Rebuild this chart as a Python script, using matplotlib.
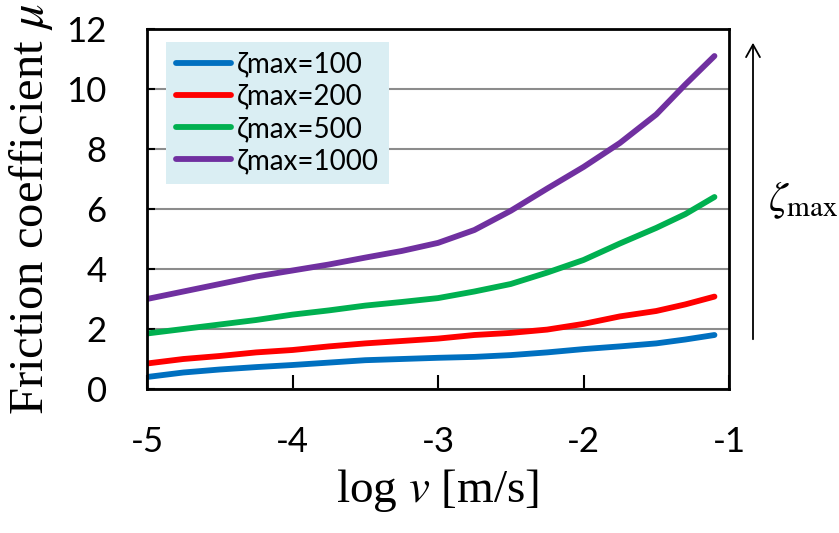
import numpy as np
import matplotlib.pyplot as plt
from matplotlib.patches import FancyArrowPatch

log_v = [-5.0, -4.75, -4.5, -4.25, -4.0, -3.75, -3.5, -3.25, -3.0,
         -2.75, -2.5, -2.25, -2.0, -1.75, -1.5, -1.3, -1.1]
mu_100 = [0.40, 0.55, 0.65, 0.73, 0.80, 0.88, 0.96, 1.00, 1.04,
          1.07, 1.13, 1.22, 1.33, 1.42, 1.52, 1.65, 1.80]
mu_200 = [0.85, 1.00, 1.10, 1.22, 1.30, 1.42, 1.52, 1.60, 1.68,
          1.80, 1.87, 1.98, 2.17, 2.42, 2.60, 2.82, 3.08]
mu_500 = [1.85, 2.00, 2.15, 2.30, 2.48, 2.62, 2.78, 2.90, 3.03,
          3.25, 3.50, 3.88, 4.30, 4.85, 5.37, 5.83, 6.40]
mu_1000 = [3.00, 3.25, 3.50, 3.75, 3.95, 4.15, 4.38, 4.60, 4.87,
           5.30, 5.94, 6.68, 7.40, 8.20, 9.15, 10.15, 11.10]

labels = ["ζmax=100", "ζmax=200", "ζmax=500", "ζmax=1000"]
colors = ["#0070C0", "#FF0000", "#00B050", "#7030A0"]
series = [mu_100, mu_200, mu_500, mu_1000]

xticks = [-5, -4, -3, -2, -1]
yticks = [0, 2, 4, 6, 8, 10, 12]

plt.rcParams["mathtext.fontset"] = "stix"

fig = plt.figure(figsize=(8.39, 5.33), dpi=100)
ax = fig.add_axes([147 / 839, 1 - 389 / 533, 582 / 839, 360 / 533])

for y, lab, c in zip(series, labels, colors):
    ax.plot(log_v, y, color=c, linewidth=4.2, label=lab,
            solid_capstyle="round", solid_joinstyle="round")

ax.set_xlim(-5, -1)
ax.set_ylim(0, 12)
ax.set_xticks(xticks)
ax.set_yticks(yticks)
ax.set_xticklabels([str(t) for t in xticks], fontfamily="Lato")
ax.set_yticklabels([str(t) for t in yticks], fontfamily="Lato")
ax.tick_params(axis="x", direction="in", length=10, width=1.5, labelsize=25, pad=27)
ax.tick_params(axis="y", direction="in", length=6, width=1.5, labelsize=25, pad=29)
ax.yaxis.grid(True, color="#8c8c8c", linewidth=1.5)
ax.set_axisbelow(True)
for s in ax.spines.values():
    s.set_linewidth(2)

ax.set_xlabel(r"log $v$ [m/s]", fontfamily="Liberation Serif", fontsize=34, labelpad=6)
ax.set_ylabel(r"Friction coefficient $\mu$", fontfamily="Liberation Serif", fontsize=35, labelpad=8)

leg = ax.legend(loc="upper left", bbox_to_anchor=(0.033, 0.964),
                prop={"family": "Lato", "size": 20}, frameon=True, fancybox=False,
                handlelength=2.0, handletextpad=0.2, labelspacing=0.22, borderpad=0.35,
                borderaxespad=0)
leg.get_frame().set_facecolor("#DAEEF3")
leg.get_frame().set_edgecolor("none")
leg.get_frame().set_alpha(1)
for h in leg.get_lines():
    h.set_linewidth(4.2)

fig.patches.append(FancyArrowPatch(
    (753 / 839, 1 - 342 / 533), (753 / 839, 1 - 40 / 533), transform=fig.transFigure,
    arrowstyle="->,head_length=9,head_width=5", color="black", linewidth=1.3))
fig.text(768 / 839, 1 - 200 / 533, r"$\zeta_{\mathrm{max}}$", fontsize=30, va="center", ha="left")

fig.savefig("out.png", dpi=100)
